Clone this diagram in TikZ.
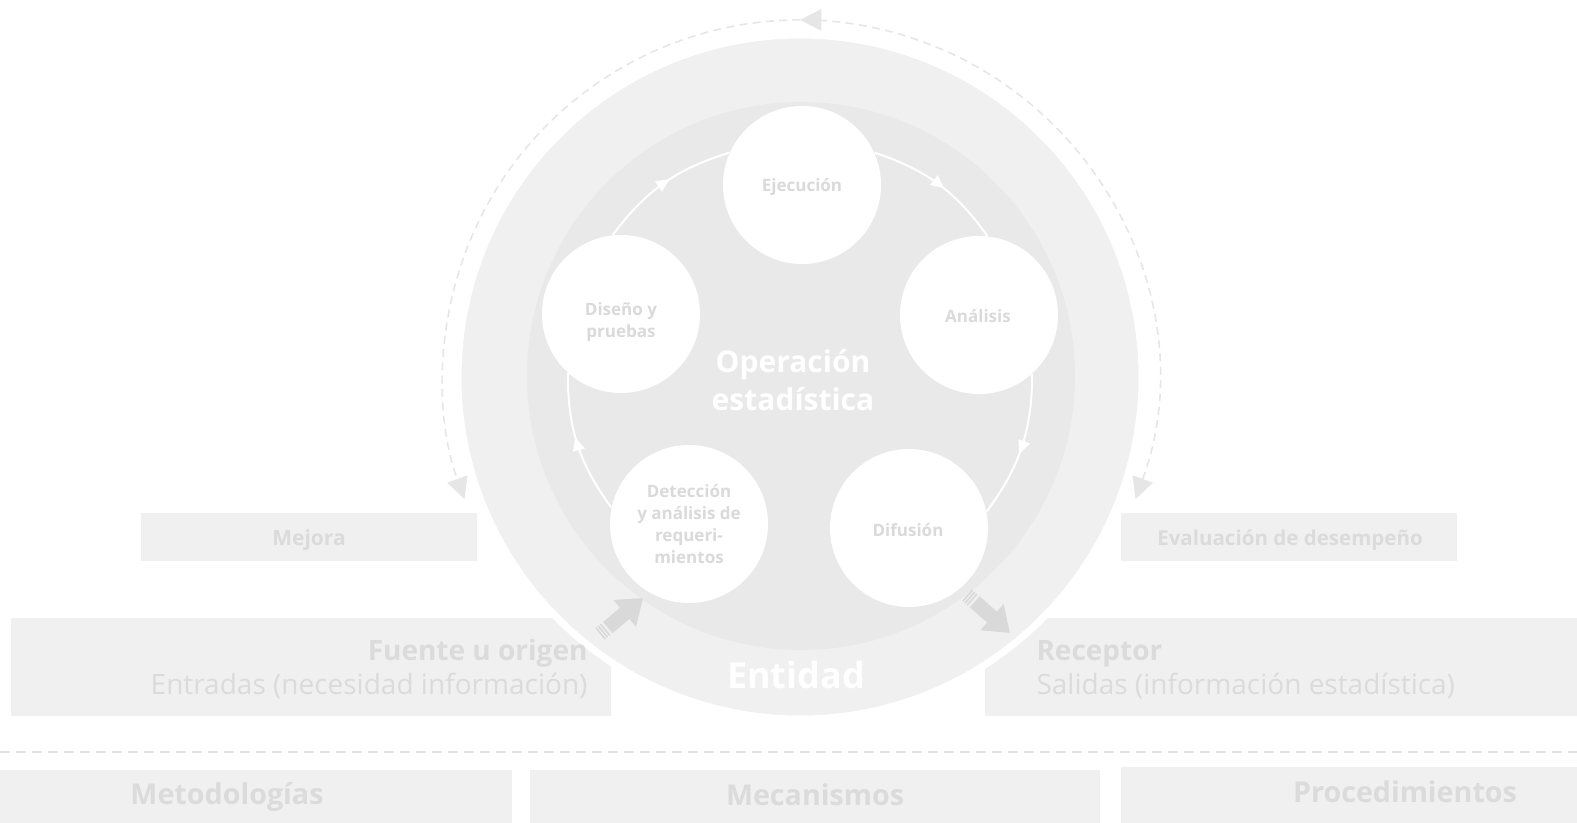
\documentclass[tikz,border=0pt]{standalone}
\usepackage{fontspec}
\setmainfont{Open Sans}
\usetikzlibrary{arrows.meta,calc,decorations.markings}

\tikzset{every picture/.style={line width=0.75pt}}
\tikzset{
	panel/.style={rectangle, inner sep=0pt, fill={rgb, 255:red, 240; green, 240; blue, 240 }},
	paneltext/.style={inner sep=0pt, text={rgb, 255:red, 219; green, 219; blue, 219 }},
	stepcirc/.style={circle, fill=white, inner sep=0pt, minimum size=118.5pt},
	steptext/.style={inner sep=0pt, align=center, text={rgb, 255:red, 218; green, 218; blue, 218 }, font=\fontsize{12.75}{16.5}\selectfont\bfseries},
	cyclearrow/.style={draw=white, line width=1.5pt, postaction={decorate},
		decoration={markings, mark=at position 0.55 with {\arrow{Triangle[width=9pt,length=10pt]}}}},
	looparrow/.style={draw={rgb, 255:red, 230; green, 230; blue, 230 }, line width=1.2pt, dash pattern=on 6pt off 4pt,
		{Triangle[width=16pt,length=16pt]}-{Triangle[width=16pt,length=16pt]}, postaction={decorate},
		decoration={markings, mark=at position 0.5 with {\arrow{Triangle[width=16pt,length=16pt]}}}},
	blockarrow/.style={draw={rgb, 255:red, 217; green, 217; blue, 217 }, line width=11pt, -{Triangle[width=25pt,length=18pt]}},
	blockstripe/.style={draw={rgb, 255:red, 217; green, 217; blue, 217 }, line width=11pt, dash pattern=on 1.2pt off 1pt}
}

\begin{document}
\begin{tikzpicture}[x=0.75pt,y=0.75pt,yscale=-1,xscale=1]
	\useasboundingbox (0,0) rectangle (1577,823);

	%Shape: Rectangle
	\node[panel, minimum width=252pt, minimum height=36pt] (mejora) at (309,537) {};
	%Shape: Rectangle
	\node[panel, minimum width=252pt, minimum height=36pt] (evalua) at (1289,537) {};
	%Shape: Rectangle
	\node[panel, minimum width=450pt, minimum height=73.5pt] (fuente) at (311,667) {};
	%Shape: Rectangle
	\node[panel, minimum width=444pt, minimum height=73.5pt] (recep) at (1281,667) {};

	% Text Node
	\node[paneltext, text height=11.3pt, text depth=0pt, font=\fontsize{15.75}{19}\selectfont\bfseries] (mejoraT) at (309,538) {Mejora};
	% Text Node
	\node[paneltext, text height=11.3pt, text depth=0pt, font=\fontsize{15.4}{19}\selectfont\bfseries] (evaluaT) at (1290,538) {Evaluación de desempeño};

	%Shape: Circle (entidad)
	\draw [draw=white, line width=5.25pt, fill={rgb, 255:red, 240; green, 240; blue, 240 }] (800,377) circle [radius=342];
	%Shape: Circle (operacion)
	\fill [fill={rgb, 255:red, 233; green, 233; blue, 233 }] (801,376) circle [radius=274];

	% Text Node
	\node[paneltext, anchor=east, text height=15pt, text depth=0pt, font=\fontsize{21}{26}\selectfont\bfseries] (fuenteT) at (588,650) {Fuente u origen};
	% Text Node
	\node[paneltext, anchor=east, text height=15pt, text depth=0pt, font=\fontsize{21}{26}\selectfont] (entradaT) at (588,684) {Entradas (necesidad información)};
	% Text Node
	\node[paneltext, anchor=west, text height=15pt, text depth=0pt, font=\fontsize{21}{26}\selectfont\bfseries] (recepT) at (1036,650) {Receptor};
	% Text Node
	\node[paneltext, anchor=west, text height=15pt, text depth=0pt, font=\fontsize{21}{26}\selectfont] (salidaT) at (1036,684) {Salidas (información estadística)};
	% Text Node
	\node[inner sep=0pt, text=white, text height=19.3pt, text depth=0pt, font=\fontsize{27}{32}\selectfont\bfseries] (entidad) at (796,676) {Entidad};
	% Text Node
	\node[inner sep=0pt, text=white, align=center, font=\fontsize{22.5}{28.5}\selectfont\bfseries] (operac) at (793,380) {Operación\\estadística};

	%Cycle arrows
	\coordinate (ejecP) at (802,185);
	\coordinate (analP) at (979,315);
	\coordinate (difuP) at (909,528);
	\coordinate (deteP) at (689,524);
	\coordinate (diseP) at (621,314);

	%Shape: Circles
	\node[stepcirc] (ejec) at (ejecP) {};
	\node[stepcirc] (anal) at (analP) {};
	\node[stepcirc] (difu) at (difuP) {};
	\node[stepcirc] (dete) at (deteP) {};
	\node[stepcirc] (dise) at (diseP) {};

	\draw[cyclearrow] (ejec.24) to[bend right=18] (anal.84);
	\draw[cyclearrow] (anal.312) to[bend right=18] (difu.12);
	\draw[cyclearrow] (dete.168) to[bend right=18] (dise.228);
	\draw[cyclearrow] (dise.96) to[bend right=18] (ejec.156);

	% Text Node
	\node[steptext, text height=9.2pt, text depth=0pt] (ejecT) at (802,185) {Ejecución};
	% Text Node
	\node[steptext, text height=9.2pt, text depth=0pt] (analT) at (978,316) {Análisis};
	% Text Node
	\node[steptext, text height=9.2pt, text depth=0pt] (difuT) at (908,530) {Difusión};
	% Text Node
	\node[steptext] (deteT) at (689,524) {Detección\\y análisis de\\requeri-\\mientos};
	% Text Node
	\node[steptext] (diseT) at (621,322) {Diseño y\\pruebas};

	%Block arrows
	\coordinate (inTail) at (600,634);
	\coordinate (outTip) at (1010,633);
	\draw[blockstripe] (inTail) -- ($(inTail)!6.6pt!(dete.240)$);
	\draw[blockarrow, shorten >=6pt] ($(inTail)!7.6pt!(dete.240)$) -- (dete.240);
	\draw[blockstripe] ($(difu.310)!7pt!(outTip)$) -- ($(difu.310)!13.6pt!(outTip)$);
	\draw[blockarrow] ($(difu.310)!14.6pt!(outTip)$) -- (outTip);

	%Improvement loop
	\coordinate (loopR) at (1135.5,499.1);
	\draw[looparrow] (loopR) arc [start angle=20, end angle=-200, radius=357];

	%Dashed separator
	\coordinate (sepL) at (0,752);
	\coordinate (sepR) at (1577,752);
	\draw[draw={rgb, 255:red, 226; green, 226; blue, 226 }, line width=1.5pt, dash pattern=on 7.5pt off 4.5pt] (sepL) -- (sepR);

	%Shape: Rectangles (bottom)
	\node[panel, minimum width=427.5pt, minimum height=42pt] (metodo) at (227,798) {};
	\node[panel, minimum width=427.5pt, minimum height=42pt] (mecan) at (815,798) {};
	\node[panel, minimum width=427.5pt, minimum height=42pt] (proced) at (1406,795) {};
	% Text Node
	\node[paneltext, text height=15.4pt, text depth=0pt, font=\fontsize{21.5}{26}\selectfont\bfseries] (metodoT) at (227,794) {Metodologías};
	% Text Node
	\node[paneltext, text height=15.4pt, text depth=0pt, font=\fontsize{21.5}{26}\selectfont\bfseries] (mecanT) at (815,795) {Mecanismos};
	% Text Node
	\node[paneltext, text height=15.4pt, text depth=0pt, font=\fontsize{21.5}{26}\selectfont\bfseries] (procedT) at (1405,792) {Procedimientos};

\end{tikzpicture}
\end{document}
